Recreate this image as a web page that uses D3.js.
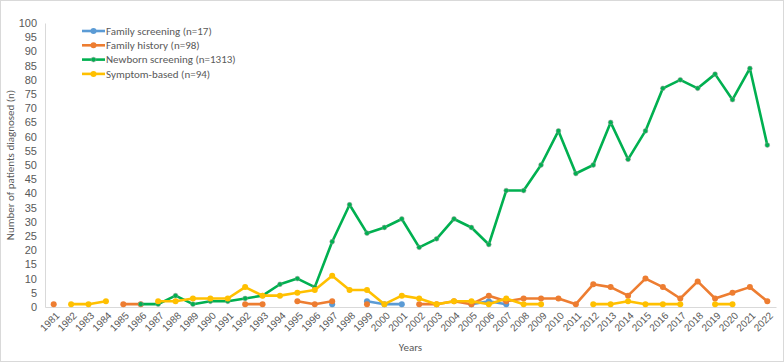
<!DOCTYPE html>
<html>
<head>
<meta charset="utf-8">
<script src="https://cdn.jsdelivr.net/npm/d3@7"></script>
<style>
  body { margin: 0; background: #fff; }
  svg { font-family: Calibri, Carlito, "Liberation Sans", Arial, sans-serif; }
</style>
</head>
<body>
<div id="chart"></div>
<script>
var years = d3.range(1981, 2023).map(String);
var yTicks = d3.range(0, 101, 5);

// null = no patients that year (gap in the line)
var familyScreening = [null,null,null,null,null,null,null,null,null,null,null,null,null,null,null,null,1,null,2,1,1,null,null,null,1,2,1,null,null,null,null,null,null,null,null,null,null,null,null,null,null,null];
var familyHistory = [1,null,null,null,1,1,null,null,null,null,null,1,1,null,2,1,2,null,1,null,null,1,1,2,1,4,2,3,3,3,1,8,7,4,10,7,3,9,3,5,7,2];
var newbornScreening = [null,null,null,null,null,1,1,4,1,2,2,3,4,8,10,7,23,36,26,28,31,21,24,31,28,22,41,41,50,62,47,50,65,52,62,77,80,77,82,73,84,57];
var symptomBased = [null,1,1,2,null,null,2,2,3,3,3,7,4,4,5,6,11,6,6,1,4,3,1,2,2,1,3,1,1,null,null,1,1,2,1,1,1,null,1,1,null,null];

var series = [
  { name: "Family screening (n=17)", values: familyScreening, color: "#5B9BD5" },
  { name: "Family history (n=98)", values: familyHistory, color: "#ED7D31" },
  { name: "Newborn screening (n=1313)", values: newbornScreening, color: "#00B050" },
  { name: "Symptom-based (n=94)", values: symptomBased, color: "#FFC000" }
];

var width = 784, height = 362;
var margin = { top: 23, right: 8, bottom: 55, left: 45 };

var svg = d3.select("#chart").append("svg")
  .attr("width", width)
  .attr("height", height);

svg.append("rect")
  .attr("x", 0.5).attr("y", 0.5)
  .attr("width", width - 1).attr("height", height - 1)
  .attr("fill", "#fff")
  .attr("stroke", "#d9d9d9");

var x = d3.scaleBand()
  .domain(years)
  .range([margin.left, width - margin.right]);

var y = d3.scaleLinear()
  .domain([0, 100])
  .range([height - margin.bottom, margin.top]);

var cx = function(i) { return x(years[i]) + x.bandwidth() / 2; };

// y axis
var yAxis = svg.append("g")
  .attr("transform", "translate(" + margin.left + ",0)")
  .call(d3.axisLeft(y).tickValues(yTicks).tickSize(0).tickPadding(8));
yAxis.select(".domain").attr("stroke", "#d9d9d9");
yAxis.selectAll("text").attr("fill", "#595959").style("font-size", "11px");

// x axis
var xAxis = svg.append("g")
  .attr("transform", "translate(0," + y(0) + ")")
  .call(d3.axisBottom(x).tickSize(0).tickPadding(6));
xAxis.select(".domain").attr("stroke", "#d9d9d9");
xAxis.selectAll("text")
  .attr("fill", "#595959")
  .style("font-size", "10px")
  .attr("text-anchor", "end")
  .attr("dx", "-0.2em")
  .attr("dy", "0.5em")
  .attr("transform", "rotate(-45)");

// axis titles
svg.append("text")
  .attr("transform", "translate(14," + ((margin.top + y(0)) / 2) + ") rotate(-90)")
  .attr("text-anchor", "middle")
  .attr("fill", "#595959")
  .style("font-size", "11px")
  .text("Number of patients diagnosed (n)");

svg.append("text")
  .attr("x", (margin.left + width - margin.right) / 2)
  .attr("y", 351)
  .attr("text-anchor", "middle")
  .attr("fill", "#595959")
  .style("font-size", "11px")
  .text("Years");

var line = d3.line()
  .defined(function(d) { return d != null; })
  .x(function(d, i) { return cx(i); })
  .y(function(d) { return y(d); });

series.forEach(function(s) {
  var g = svg.append("g");
  g.append("path")
    .attr("d", line(s.values))
    .attr("fill", "none")
    .attr("stroke", s.color)
    .attr("stroke-width", 2.6)
    .attr("stroke-linejoin", "round");

  var pts = s.values.map(function(v, i) { return { v: v, i: i }; })
    .filter(function(d) { return d.v != null; });
  var isNewborn = s.values === newbornScreening;
  g.selectAll("circle")
    .data(pts)
    .enter().append("circle")
    .attr("cx", function(d) { return cx(d.i); })
    .attr("cy", function(d) { return y(d.v); })
    .attr("r", isNewborn ? 2.4 : 3)
    .attr("fill", s.color)
    .attr("stroke", isNewborn ? "#9a9a9a" : "none")
    .attr("stroke-width", 0.5);
});

// legend
var legend = svg.append("g").attr("transform", "translate(82,31)");
series.forEach(function(s, i) {
  var row = legend.append("g").attr("transform", "translate(0," + (i * 14.3) + ")");
  row.append("line")
    .attr("x1", 0).attr("x2", 23)
    .attr("stroke", s.color).attr("stroke-width", 2.6);
  row.append("circle")
    .attr("cx", 11.5).attr("r", s.values === newbornScreening ? 2.4 : 3)
    .attr("fill", s.color)
    .attr("stroke", s.values === newbornScreening ? "#9a9a9a" : "none")
    .attr("stroke-width", 0.5);
  row.append("text")
    .attr("x", 24).attr("dy", "0.35em")
    .attr("fill", "#595959")
    .style("font-size", "11px")
    .text(s.name);
});
</script>
</body>
</html>
